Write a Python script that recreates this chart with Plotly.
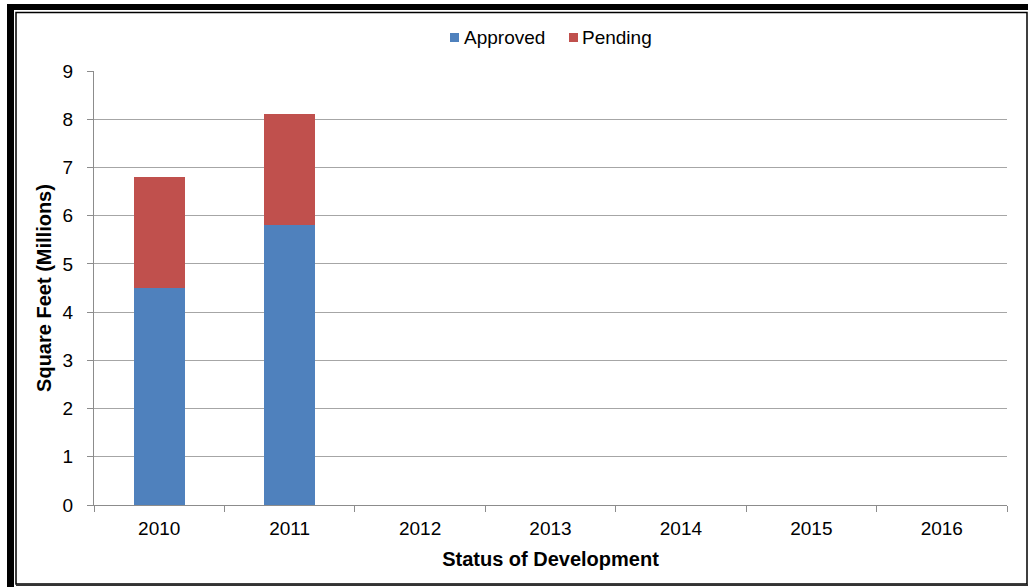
import plotly.graph_objects as go

# Development pipeline, square feet in millions
years = ["2010", "2011", "2012", "2013", "2014", "2015", "2016"]
approved = [4.5, 5.8, None, None, None, None, None]
pending = [2.3, 2.3, None, None, None, None, None]

series_names = ["Approved", "Pending"]
series_colors = ["#4F81BD", "#C0504D"]

W, H = 1028, 587
L, R, T, B = 94, 21, 71, 82
PW, PH = W - L - R, H - T - B

FONT = "Liberation Sans, Arial, sans-serif"


def px(x):
    return (x - L) / PW


def py(y):
    return (H - B - y) / PH


fig = go.Figure()
for name, vals, color in zip(series_names, [approved, pending], series_colors):
    fig.add_trace(go.Bar(name=name, x=years, y=vals, marker_color=color,
                         marker_line_width=0, showlegend=False))

# Double frame around the chart
shapes = [
    dict(type="rect", xref="paper", yref="paper", x0=px(7), x1=px(14), y0=py(587), y1=py(4),
         fillcolor="black", line_width=0, layer="above"),
    dict(type="rect", xref="paper", yref="paper", x0=px(7), x1=px(1028), y0=py(10), y1=py(4),
         fillcolor="black", line_width=0, layer="above"),
    dict(type="rect", xref="paper", yref="paper", x0=px(16), x1=px(1027), y0=py(584), y1=py(12.5),
         fillcolor="rgba(0,0,0,0)", line=dict(color="black", width=1.5), layer="above"),
    dict(type="line", xref="paper", yref="paper", x0=px(16), x1=px(1028), y0=py(585), y1=py(585),
         line=dict(color="#333333", width=2), layer="above"),
]

# Compact legend: colour square followed by its label
annotations = []
legend_pos = [(450, 462), (569, 580)]
for (sq_x, txt_x), name, color in zip(legend_pos, series_names, series_colors):
    shapes.append(dict(type="rect", xref="paper", yref="paper",
                       x0=px(sq_x), x1=px(sq_x + 9), y0=py(42), y1=py(33),
                       fillcolor=color, line_width=0))
    annotations.append(dict(text=name, xref="paper", yref="paper", x=px(txt_x), y=py(37.5),
                            xanchor="left", yanchor="middle", showarrow=False,
                            font=dict(family=FONT, size=19, color="#000000")))

fig.update_layout(
    width=W, height=H,
    margin=dict(l=L, r=R, t=T, b=B),
    barmode="stack",
    bargap=0.61,
    plot_bgcolor="white",
    paper_bgcolor="white",
    font=dict(family=FONT, size=19, color="#000000"),
    showlegend=False,
    xaxis=dict(
        type="category",
        tickson="boundaries",
        ticks="outside", ticklen=6, tickcolor="#8C8C8C",
        showline=True, linecolor="#8C8C8C", linewidth=1,
        showgrid=False,
        tickfont=dict(size=19),
        ticklabelstandoff=6,
        title=dict(text="<b>Status of Development</b>", font=dict(size=20), standoff=14),
    ),
    yaxis=dict(
        range=[0, 9], dtick=1,
        ticks="outside", ticklen=6, tickcolor="#8C8C8C",
        showline=True, linecolor="#8C8C8C", linewidth=1,
        showgrid=True, gridcolor="#A6A6A6", gridwidth=1,
        zeroline=False,
        tickfont=dict(size=19),
        ticklabelstandoff=10,
        title=dict(text="<b>Square Feet (Millions)</b>", font=dict(size=20), standoff=5),
    ),
    shapes=shapes,
    annotations=annotations,
)

fig.write_html("out.html")
